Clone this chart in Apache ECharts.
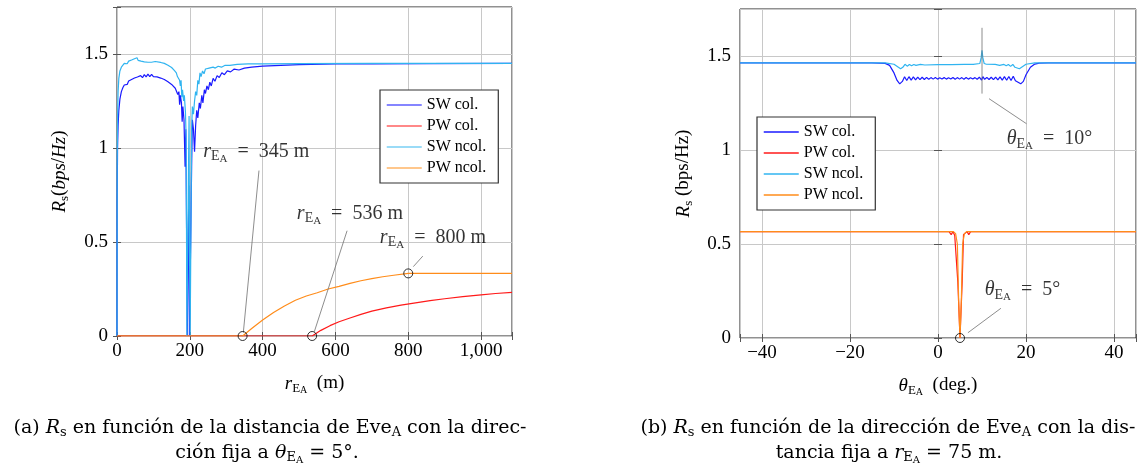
<!DOCTYPE html>
<html>
<head>
<meta charset="utf-8">
<script src="https://cdn.jsdelivr.net/npm/echarts@6.0.0/dist/echarts.min.js"></script>
<style>
  html, body { margin: 0; padding: 0; background: #fff; }
  #chart { width: 1148px; height: 469px; }
</style>
</head>
<body>
<div id="chart"></div>
<script>
var seriesNames = ['SW col.', 'PW col.', 'SW ncol.', 'PW ncol.'];
var lineColors = ['#1a1aff', '#ff1a1a', '#30b4f0', '#ff8c1a'];
var legendColorsA = ['#5c5cff', '#ff6060', '#78cff5', '#ffb466'];

// (a) Rs vs r_EA (m), theta fixed at 5 deg
var swColDist = [[0,0],[0.5,0.7],[1.5,1.0],[3,1.12],[5,1.2],[8,1.26],[12,1.3],[16,1.32],[20,1.335],[24,1.345],
  [28,1.338],[32,1.356],[36,1.347],[40,1.364],[44,1.355],[48,1.372],[52,1.362],[56,1.378],[60,1.368],[65,1.385],
  [70,1.374],[75,1.39],[80,1.378],[85,1.393],[90,1.38],[95,1.392],[100,1.38],[105,1.39],[110,1.378],[115,1.388],
  [120,1.372],[125,1.382],[130,1.364],[135,1.372],[140,1.352],[145,1.36],[150,1.338],[155,1.345],[160,1.318],
  [164,1.326],[167,1.285],[170,1.30],[172,1.23],[174,1.28],[177,1.24],[179,1.14],[181,1.22],[184,1.15],[187,0.9],
  [189,1.1],[191,0.6],[193,0],[196,0],[197.5,0.8],[199,0],[203,0],[205,0.9],[207,1.15],[210,1.1],[213,0.98],
  [216,1.12],[219,1.2],[222,1.16],[226,1.24],[229,1.21],[233,1.28],[236,1.24],[240,1.31],[243,1.29],[247,1.33],
  [251,1.31],[255,1.35],[259,1.33],[264,1.37],[269,1.355],[275,1.385],[281,1.375],[288,1.40],[295,1.39],
  [303,1.41],[312,1.405],[322,1.42],[335,1.415],[350,1.425],[370,1.43],[400,1.435],[450,1.44],[500,1.443],
  [600,1.447],[700,1.448],[850,1.449],[1085,1.45]];
var pwColDist = [[0,0],[536,0],[560,0.03],[585,0.055],[610,0.076],[640,0.096],[670,0.115],[700,0.132],[740,0.15],
  [780,0.164],[820,0.176],[860,0.188],[900,0.198],[950,0.209],[1000,0.219],[1040,0.226],[1085,0.232]];
var swNcolDist = [[0,0],[0.5,0.9],[1.5,1.15],[3,1.3],[5,1.37],[8,1.41],[12,1.43],[16,1.44],[20,1.45],[24,1.455],
  [28,1.448],[32,1.462],[36,1.455],[40,1.468],[44,1.46],[48,1.475],[52,1.465],[55,1.48],[58,1.466],[62,1.472],
  [66,1.462],[70,1.468],[75,1.458],[80,1.464],[85,1.456],[90,1.462],[95,1.456],[100,1.466],[105,1.46],[110,1.462],
  [120,1.455],[130,1.45],[140,1.44],[150,1.428],[158,1.412],[163,1.40],[166,1.38],[169,1.39],[172,1.36],
  [174,1.33],[176,1.36],[178,1.27],[180,1.31],[183,1.25],[185,1.28],[188,1.19],[190,1.05],[192,0],[196,0],
  [197,1.0],[198,1.17],[199,0.5],[201,0],[203,0],[205,1.1],[207,1.22],[210,1.18],[213,1.25],[216,1.3],
  [219,1.28],[222,1.36],[225,1.34],[228,1.40],[231,1.38],[235,1.41],[239,1.395],[243,1.42],[248,1.41],
  [253,1.425],[258,1.415],[264,1.43],[270,1.425],[278,1.435],[287,1.43],[297,1.44],[310,1.44],[330,1.445],
  [360,1.447],[400,1.448],[500,1.449],[700,1.45],[1085,1.45]];
var pwNcolDist = [[0,0],[345,0],[370,0.04],[400,0.085],[430,0.125],[460,0.16],[490,0.19],[520,0.213],
  [550,0.23],[580,0.25],[610,0.264],[640,0.28],[670,0.294],[700,0.305],[730,0.315],[760,0.323],[800,0.333],
  [1085,0.333]];
var marksDist = [[345,0],[536,0],[800,0.333]];

// (b) Rs vs theta_EA (deg), r fixed at 75 m
var swColAng = [[-45,1.463],[-15,1.463],[-12,1.461],[-11,1.45],[-10,1.41],[-9.3,1.37],[-8.7,1.352],[-8.1,1.365],
  [-7.6,1.39],[-7.1,1.37],[-6.6,1.39],[-6.1,1.372],[-5.6,1.389],[-5.1,1.373],[-4.6,1.388],[-4.1,1.374],
  [-3.6,1.387],[-3.1,1.375],[-2.6,1.386],[-2.1,1.376],[-1.6,1.385],[-1.1,1.377],[-0.6,1.385],[-0.1,1.377],
  [0.4,1.384],[0.9,1.378],[1.4,1.385],[1.9,1.377],[2.4,1.384],[2.9,1.378],[3.4,1.386],[3.9,1.376],[4.4,1.385],
  [4.9,1.377],[5.4,1.385],[5.9,1.376],[6.4,1.386],[6.9,1.377],[7.4,1.384],[7.9,1.378],[8.4,1.385],[8.9,1.376],
  [9.4,1.387],[9.9,1.372],[10.2,1.39],[10.6,1.376],[11.1,1.386],[11.6,1.375],[12.1,1.387],[12.6,1.374],
  [13.1,1.388],[13.6,1.373],[14.1,1.389],[14.6,1.372],[15.1,1.39],[15.6,1.371],[16.1,1.391],[16.6,1.37],
  [17.1,1.392],[17.6,1.368],[18.2,1.36],[18.8,1.352],[19.4,1.365],[20,1.40],[21,1.44],[22,1.457],[23,1.462],
  [25,1.463],[45,1.463]];
var pwColAng = [[-45,0.566],[2.5,0.566],[3,0.55],[3.4,0.566],[3.8,0.545],[4.2,0.55],[4.5,0.3],[5,0],[5.5,0.3],
  [5.8,0.55],[6.2,0.545],[6.6,0.566],[7,0.55],[7.4,0.566],[45,0.566]];
var swNcolAng = [[-45,1.463],[-12,1.463],[-10,1.456],[-9,1.44],[-8.5,1.432],[-8,1.44],[-7.5,1.456],[-7,1.446],
  [-6.5,1.455],[-6,1.448],[-5.5,1.455],[-5,1.45],[-4,1.455],[-3,1.452],[0,1.454],[3,1.454],[6,1.455],[8,1.455],
  [9.5,1.46],[9.8,1.49],[10,1.53],[10.2,1.49],[10.5,1.46],[11,1.456],[13,1.455],[14,1.45],[15,1.455],
  [15.5,1.448],[16,1.455],[16.5,1.445],[17,1.455],[17.5,1.44],[18.5,1.432],[19,1.44],[20,1.456],[22,1.463],
  [45,1.463]];
var pwNcolAng = [[-45,0.566],[3.5,0.566],[4,0.555],[4.4,0.5],[4.7,0.2],[5,0],[5.3,0.2],[5.6,0.5],[6,0.555],
  [6.5,0.566],[45,0.566]];
var marksAng = [[5,0]];

// annotation texts: anchor [x, y] in data units, text
var notesDist = [[237, 0.98, '345 m'], [494, 0.65, '536 m'], [722, 0.525, '800 m']];
var pinsDist = [[[347,0.018],[390,0.88]], [[542,0.023],[632,0.56]], [[814,0.369],[840,0.425]]];
var notesAng = [[15.6, 1.058, '10°'], [10.6, 0.256, '5°']];
var pinsAng = [[[10,1.30],[10,1.65]], [[11.6,1.273],[20.1,1.14]], [[14.3,0.158],[6.8,0.028]]];

var FONT = 'Liberation Serif';
var CAPFONT = 'DejaVu Serif';
function richSet(size, family) {
  var lh = size + 8;
  var f = family || FONT;
  return {
    n: {fontFamily: f, fontSize: size, color: '#000', lineHeight: lh},
    i: {fontFamily: f, fontSize: size, fontStyle: 'italic', color: '#000', lineHeight: lh},
    s: {fontFamily: f, fontSize: Math.round(size * 0.7), color: '#000', lineHeight: lh,
        padding: [Math.round(size * 0.5), 0, 0, 0]},
    ss: {fontFamily: f, fontSize: Math.round(size * 0.55), color: '#000', lineHeight: lh,
        padding: [Math.round(size * 0.75), 0, 0, 0]}
  };
}

var myChart = echarts.init(document.getElementById('chart'), null, {renderer: 'canvas'});

function xAxes(grid, min, max, interval, step, nameText) {
  var fmt = function (v) {
    if (Math.abs(v % step) > 1e-6) return '';
    return echarts.format.addCommas(v).replace('-', '\u2212');
  };
  var bottom = {
    gridIndex: grid, type: 'value', min: min, max: max, position: 'bottom',
    name: nameText, nameLocation: 'middle', nameGap: 34,
    nameTextStyle: {rich: richSet(19)},
    axisLine: {show: false},
    axisTick: {inside: true, length: 4, lineStyle: {color: '#555'}},
    axisLabel: {fontFamily: FONT, fontSize: 19, color: '#000', margin: 6, formatter: fmt},
    splitLine: {show: true, lineStyle: {color: '#c8c8c8', width: 1}}
  };
  var top = {
    gridIndex: grid, type: 'value', min: min, max: max, position: 'top',
    axisLine: {show: false}, axisLabel: {show: false}, splitLine: {show: false},
    axisTick: {inside: true, length: 4, lineStyle: {color: '#555'}}
  };
  if (interval) { bottom.interval = interval; top.interval = interval; }
  else { bottom.splitNumber = 5; top.splitNumber = 5; }
  return [bottom, top];
}
function yAxes(grid, nameText, gap) {
  var left = {
    gridIndex: grid, type: 'value', min: 0, max: 1.75, interval: 0.5, position: 'left',
    name: nameText, nameLocation: 'middle', nameGap: gap, nameRotate: 90,
    nameTextStyle: {rich: richSet(19)},
    axisLine: {show: false},
    axisTick: {inside: true, length: 4, lineStyle: {color: '#555'}},
    axisLabel: {fontFamily: FONT, fontSize: 19, color: '#000', margin: 9,
      formatter: function (v) { return Math.abs(v % 0.5) > 1e-6 ? '' : String(v); }},
    splitLine: {show: true, lineStyle: {color: '#c8c8c8', width: 1}}
  };
  var right = {
    gridIndex: grid, type: 'value', min: 0, max: 1.75, interval: 0.5, position: 'right',
    axisLine: {show: false}, axisLabel: {show: false}, splitLine: {show: false},
    axisTick: {inside: true, length: 4, lineStyle: {color: '#555'}}
  };
  return [left, right];
}

var xs = xAxes(0, 0, 1085, 200, 200, '{i|r}{s|E}{ss|A}{n|  (m)}')
  .concat(xAxes(1, -45, 45, null, 20, '{i|θ}{s|E}{ss|A}{n|  (deg.)}'));
var ys = yAxes(0, '{i|R}{s|s}{n|(}{i|bps}{n|/}{i|Hz}{n|)}', 44)
  .concat(yAxes(1, '{i|R}{s|s}{n| (bps/Hz)}', 43));

var series = [];
function addCurves(axisIdx, datas) {
  for (var k = 0; k < datas.length; k++) {
    series.push({
      name: seriesNames[k], type: 'line', xAxisIndex: axisIdx, yAxisIndex: axisIdx,
      data: datas[k], symbol: 'none', smooth: false, animation: false,
      lineStyle: {color: lineColors[k], width: 1.2}, itemStyle: {color: lineColors[k]}, z: 2 + k * 0.1
    });
  }
}
function addPins(axisIdx, pins) {
  pins.forEach(function (p) {
    series.push({
      type: 'line', xAxisIndex: axisIdx, yAxisIndex: axisIdx, data: p, symbol: 'none',
      silent: true, animation: false, lineStyle: {color: '#707070', width: 0.8}, z: 3
    });
  });
}
function addMarks(axisIdx, pts) {
  series.push({
    type: 'scatter', xAxisIndex: axisIdx, yAxisIndex: axisIdx, data: pts, symbol: 'circle',
    symbolSize: 9, silent: true, animation: false, z: 6,
    itemStyle: {color: 'rgba(0,0,0,0)', borderColor: '#000', borderWidth: 1}
  });
}
function addNotes(axisIdx, notes, sym) {
  series.push({
    type: 'scatter', xAxisIndex: axisIdx, yAxisIndex: axisIdx, symbolSize: 0, silent: true,
    animation: false, z: 7,
    data: notes.map(function (d) {
      return {value: [d[0], d[1]], label: {formatter: sym + '{n|  =  ' + d[2] + '}'}};
    }),
    label: {show: true, position: 'right', distance: 0, rich: richSet(20)}
  });
}

addCurves(0, [swColDist, pwColDist, swNcolDist, pwNcolDist]);
addPins(0, pinsDist);
addMarks(0, marksDist);
addNotes(0, notesDist, '{i|r}{s|E}{ss|A}');
addCurves(2, [swColAng, pwColAng, swNcolAng, pwNcolAng]);
addPins(2, pinsAng);
addMarks(2, marksAng);
addNotes(2, notesAng, '{i|θ}{s|E}{ss|A}');

function legendAt(left, top, colors) {
  return {
    show: true, orient: 'vertical', left: left, top: top, selectedMode: false,
    backgroundColor: '#fff', borderColor: '#333', borderWidth: 1.2, borderRadius: 0,
    padding: [7, 12, 7, 6], itemWidth: 35, itemHeight: 14, itemGap: 5, z: 10,
    textStyle: {fontFamily: FONT, fontSize: 16, color: '#000', lineHeight: 14},
    data: seriesNames.map(function (n, k) {
      return {name: n, lineStyle: {color: colors[k], width: 1.5},
        itemStyle: {color: 'rgba(0,0,0,0)', borderWidth: 0, opacity: 0}};
    })
  };
}

var capRich = richSet(19, CAPFONT);
function caption(x, y, text) {
  return {type: 'text', x: x, y: y, silent: true,
    style: {text: text, rich: capRich, align: 'center', verticalAlign: 'middle',
      textAlign: 'center', textVerticalAlign: 'middle'}};
}

var option = {
  backgroundColor: '#fff',
  animation: false,
  grid: [
    {left: 117, top: 7, width: 395, height: 329, show: true, borderColor: '#222', borderWidth: 1, backgroundColor: 'transparent'},
    {left: 740, top: 9, width: 396, height: 329, show: true, borderColor: '#222', borderWidth: 1, backgroundColor: 'transparent'}
  ],
  xAxis: xs,
  yAxis: ys,
  legend: [legendAt(380, 90, legendColorsA), legendAt(757, 117, lineColors)],
  series: series,
  graphic: [
    caption(270, 428, '{n|(a) }{i|R}{s|s}{n| en función de la distancia de Eve}{s|A}{n| con la direc-}'),
    caption(267, 453, '{n|ción fija a }{i|θ}{s|E}{ss|A}{n| = 5°.}'),
    caption(888, 428, '{n|(b) }{i|R}{s|s}{n| en función de la dirección de Eve}{s|A}{n| con la dis-}'),
    caption(889, 453, '{n|tancia fija a }{i|r}{s|E}{ss|A}{n| = 75 m.}')
  ]
};

option && myChart.setOption(option);
</script>
</body>
</html>
